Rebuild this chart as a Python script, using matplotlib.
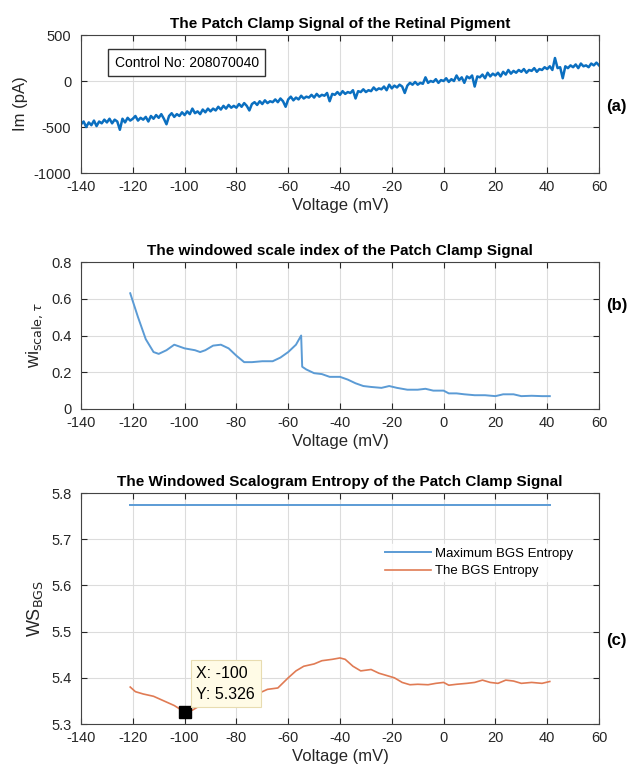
import numpy as np
import matplotlib.pyplot as plt

plt.rcParams['font.family'] = ['Liberation Sans', 'DejaVu Sans']
plt.rcParams['axes.unicode_minus'] = False

# (a) patch clamp signal, read every 1 mV
v_a = list(range(-140, 61))
im_a = [-470, -440, -500, -450, -480, -430, -490, -440, -460, -420,
        -450, -410, -460, -420, -440, -530, -410, -450, -400, -430,
        -410, -380, -430, -400, -420, -390, -440, -380, -410, -370,
        -400, -360, -410, -470, -380, -350, -390, -360, -380, -340,
        -370, -330, -360, -300, -350, -330, -360, -310, -340, -300,
        -330, -300, -320, -280, -310, -270, -300, -260, -290, -270,
        -290, -250, -280, -240, -270, -320, -250, -230, -260, -220,
        -250, -210, -240, -220, -230, -200, -230, -190, -220, -280,
        -200, -170, -210, -180, -200, -160, -190, -170, -180, -150,
        -180, -140, -170, -150, -160, -130, -220, -140, -150, -120,
        -150, -110, -140, -120, -130, -100, -190, -110, -120, -90,
        -120, -100, -110, -70, -100, -80, -90, -60, -100, -40,
        -80, -50, -70, -40, -60, -130, -50, -20, -40, -10,
        -40, -20, -30, 40, -20, 0, -10, 20, -20, 10,
        0, 30, -10, 20, 0, 60, 10, 40, -20, 50,
        30, 60, -60, 50, 40, 70, 30, 90, 50, 80,
        60, 90, 50, 100, 70, 120, 80, 110, 90, 120,
        100, 130, 90, 120, 110, 140, 100, 130, 120, 150,
        130, 160, 120, 250, 140, 150, 30, 160, 140, 170,
        150, 180, 140, 190, 160, 170, 150, 190, 170, 200,
        170]

# (b) windowed scale index
v_b = [-121, -118, -115, -112, -110, -107, -104, -100, -96, -94, -92, -89,
       -86, -83, -80, -77, -74, -70, -66, -63, -60, -57, -55, -54.6, -53,
       -50, -47, -44, -40, -37, -34, -31, -28, -24, -21, -18, -14, -10, -7,
       -4, 0, 2, 5, 8, 12, 16, 20, 23, 27, 30, 34, 38, 41]
wi_b = [0.63, 0.50, 0.38, 0.31, 0.30, 0.32, 0.35, 0.33, 0.32, 0.31, 0.32, 0.345,
        0.35, 0.33, 0.29, 0.255, 0.255, 0.26, 0.26, 0.28, 0.31, 0.35, 0.40, 0.23, 0.215,
        0.195, 0.19, 0.175, 0.175, 0.16, 0.14, 0.125, 0.12, 0.115, 0.125, 0.115, 0.105, 0.105, 0.11,
        0.10, 0.10, 0.085, 0.085, 0.08, 0.075, 0.075, 0.07, 0.08, 0.08, 0.07, 0.072, 0.07, 0.07]

# (c) windowed scalogram entropy
v_c = [-121, -119, -116, -112, -108, -104, -100, -97, -94, -91, -88, -84, -80,
       -76, -72, -68, -64, -60, -57, -54, -50, -47, -43, -40, -38, -35, -32,
       -28, -25, -22, -19, -16, -13, -10, -6, -3, 0, 2, 5, 9, 12, 15, 18, 21,
       24, 27, 30, 34, 38, 41]
ws_c = [5.38, 5.37, 5.365, 5.36, 5.35, 5.34, 5.326, 5.33, 5.34, 5.345, 5.35, 5.355, 5.36,
        5.362, 5.365, 5.375, 5.378, 5.40, 5.415, 5.425, 5.43, 5.437, 5.44, 5.443, 5.44, 5.425, 5.415,
        5.418, 5.41, 5.405, 5.40, 5.39, 5.385, 5.386, 5.385, 5.388, 5.39, 5.384, 5.386, 5.388, 5.39, 5.395, 5.39, 5.388,
        5.395, 5.393, 5.388, 5.39, 5.388, 5.392]
max_entropy = 5.773
tip_x, tip_y = -100, 5.326

xticks = list(range(-140, 61, 20))

fig = plt.figure(figsize=(6.29, 7.78), dpi=100)
ax1 = fig.add_axes([0.1288, 0.7776, 0.8235, 0.1774])
ax2 = fig.add_axes([0.1288, 0.4743, 0.8235, 0.1889])
ax3 = fig.add_axes([0.1288, 0.0694, 0.8235, 0.2969])


def style(ax):
    ax.set_xlim(-140, 60)
    ax.set_xticks(xticks)
    ax.grid(True, color='#dcdcdc', linewidth=0.8)
    ax.set_axisbelow(True)
    ax.tick_params(direction='in', top=True, right=True, labelsize=10.5,
                   colors='#262626', length=4)
    ax.tick_params(axis='y', pad=7)
    ax.tick_params(axis='x', pad=5)
    for s in ax.spines.values():
        s.set_color('#444444')
    ax.set_xlabel('Voltage (mV)', fontsize=12, color='#262626', labelpad=3)


ax1.plot(v_a, im_a, color='#0b6fc0', linewidth=1.8)
style(ax1)
ax1.set_ylim(-1000, 500)
ax1.set_yticks([-1000, -500, 0, 500])
ax1.set_ylabel('Im (pA)', fontsize=12, color='#262626')
ax1.set_title('The Patch Clamp Signal of the Retinal Pigment', fontsize=11,
              fontweight='bold', pad=5)
ax1.text(0.065, 0.80, 'Control No: 208070040', transform=ax1.transAxes,
         fontsize=10, va='center', ha='left',
         bbox=dict(boxstyle='square,pad=0.45', fc='white', ec='#333333', lw=1))

ax2.plot(v_b, wi_b, color='#5b9bd5', linewidth=1.4)
style(ax2)
ax2.set_ylim(0, 0.8)
ax2.set_yticks([0, 0.2, 0.4, 0.6, 0.8])
ax2.set_yticklabels(['0', '0.2', '0.4', '0.6', '0.8'])
ax2.set_ylabel(r'wi$_{\mathrm{scale},\tau}$', fontsize=13, color='#262626')
ax2.set_title('The windowed scale index of the Patch Clamp Signal', fontsize=11,
              fontweight='bold', pad=5)

ax3.plot([v_c[0], v_c[-1]], [max_entropy, max_entropy], color='#5b9bd5',
         linewidth=1.4, label='Maximum BGS Entropy')
ax3.plot(v_c, ws_c, color='#e07b54', linewidth=1.2, label='The BGS Entropy')
style(ax3)
ax3.set_ylim(5.3, 5.8)
ax3.set_yticks([5.3, 5.4, 5.5, 5.6, 5.7, 5.8])
ax3.set_ylabel(r'WS$_{\mathrm{BGS}}$', fontsize=13, color='#262626')
ax3.set_title('The Windowed Scalogram Entropy of the Patch Clamp Signal',
              fontsize=11, fontweight='bold', pad=5)
ax3.legend(loc='upper right', bbox_to_anchor=(0.97, 0.81), frameon=True,
           facecolor='white', edgecolor='white', fontsize=9.5,
           handlelength=3.5, handletextpad=0.3, borderpad=0.3, labelspacing=0.4)
ax3.plot([tip_x], [tip_y], marker='s', color='black', markersize=8, zorder=5)
ax3.text(tip_x + 4.5, tip_y + 0.022, 'X: -100\nY: 5.326', fontsize=11.5,
         va='bottom', ha='left', linespacing=1.5,
         bbox=dict(boxstyle='square,pad=0.35', fc='#fffbe6', ec='#e8dcb0', lw=0.8),
         zorder=6)

fig.text(0.963, 1 - 107 / 778, '(a)', fontsize=12, fontweight='bold',
         va='center', ha='left', bbox=dict(fc='white', ec='none', pad=1))
fig.text(0.963, 1 - 305 / 778, '(b)', fontsize=12, fontweight='bold',
         va='center', ha='left', bbox=dict(fc='white', ec='none', pad=1))
fig.text(0.963, 1 - 640 / 778, '(c)', fontsize=12, fontweight='bold',
         va='center', ha='left', bbox=dict(fc='white', ec='none', pad=1))

fig.savefig('out.png', dpi=100)
